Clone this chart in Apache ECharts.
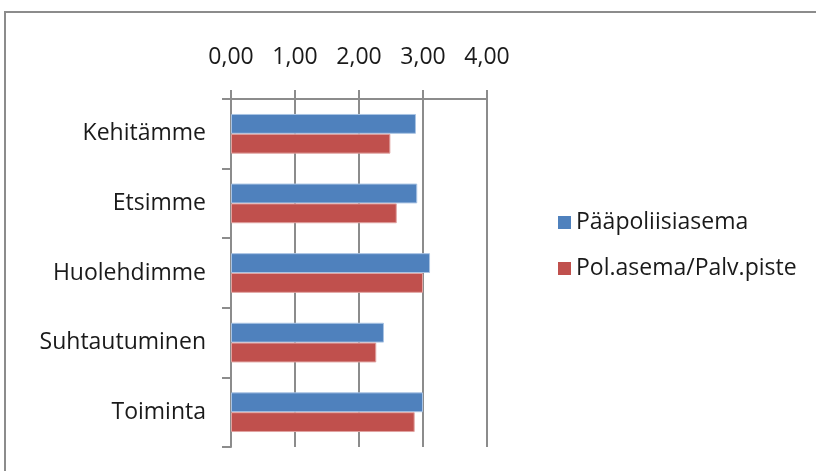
<!DOCTYPE html>
<html>
<head>
<meta charset="utf-8">
<script src="https://cdn.jsdelivr.net/npm/echarts@6/dist/echarts.min.js"></script>
<style>
  html, body { margin: 0; padding: 0; background: #fff; }
  #chart { width: 816px; height: 471px; }
</style>
</head>
<body>
<div id="chart"></div>
<script>
// Categories, top to bottom
const categories = ['Kehitämme', 'Etsimme', 'Huolehdimme', 'Suhtautuminen', 'Toiminta'];
// Mean scores per unit type
const paapoliisiasema = [2.89, 2.91, 3.11, 2.39, 3.00];
const polAsemaPalvPiste = [2.49, 2.59, 3.00, 2.27, 2.87];
const seriesNames = ['Pääpoliisiasema', 'Pol.asema/Palv.piste'];
const colors = ['#4F81BD', '#C0504D'];

const font = '"Open Sans", "DejaVu Sans", sans-serif';
const textColor = '#1a1a1a';
const lineColor = '#8c8c8c';
const chart = echarts.init(document.getElementById('chart'), null, { renderer: 'canvas' });

chart.setOption({
  animation: false,
  backgroundColor: '#fff',
  graphic: [{
    type: 'rect',
    shape: { x: 5, y: 12, width: 830, height: 480 },
    style: { fill: 'none', stroke: lineColor, lineWidth: 2 },
    silent: true
  }],
  grid: { left: 231, top: 99, width: 256, height: 348, containLabel: false },
  legend: {
    orient: 'vertical',
    left: 553,
    top: 206,
    itemWidth: 13,
    itemHeight: 13,
    itemGap: 23,
    icon: 'rect',
    itemStyle: { borderWidth: 0 },
    textStyle: { fontFamily: font, fontSize: 23, color: textColor, padding: [0, 0, 0, 0] },
    data: seriesNames
  },
  xAxis: {
    type: 'value',
    position: 'top',
    min: 0,
    max: 4,
    interval: 1,
    axisLine: { show: true, lineStyle: { color: lineColor, width: 2 } },
    axisTick: { show: true, length: 9, lineStyle: { color: lineColor, width: 2 } },
    splitLine: { show: true, lineStyle: { color: lineColor, width: 2 } },
    axisLabel: {
      margin: 30,
      fontFamily: font,
      fontSize: 23,
      color: textColor,
      formatter: v => v.toFixed(2).replace('.', ',')
    }
  },
  yAxis: {
    type: 'category',
    inverse: true,
    data: categories,
    axisLine: { show: true, lineStyle: { color: lineColor, width: 2 } },
    axisTick: { show: true, length: 9, lineStyle: { color: lineColor, width: 2 } },
    axisLabel: { margin: 25, fontFamily: font, fontSize: 23, color: textColor }
  },
  series: [
    {
      name: seriesNames[0],
      type: 'bar',
      data: paapoliisiasema,
      itemStyle: { color: colors[0], borderColor: '#a9c3e3', borderWidth: 1 },
      barGap: '0%',
      barCategoryGap: '43%'
    },
    {
      name: seriesNames[1],
      type: 'bar',
      data: polAsemaPalvPiste,
      itemStyle: { color: colors[1], borderColor: '#e0a3a1', borderWidth: 1 },
      barGap: '0%',
      barCategoryGap: '43%'
    }
  ]
});
</script>
</body>
</html>
